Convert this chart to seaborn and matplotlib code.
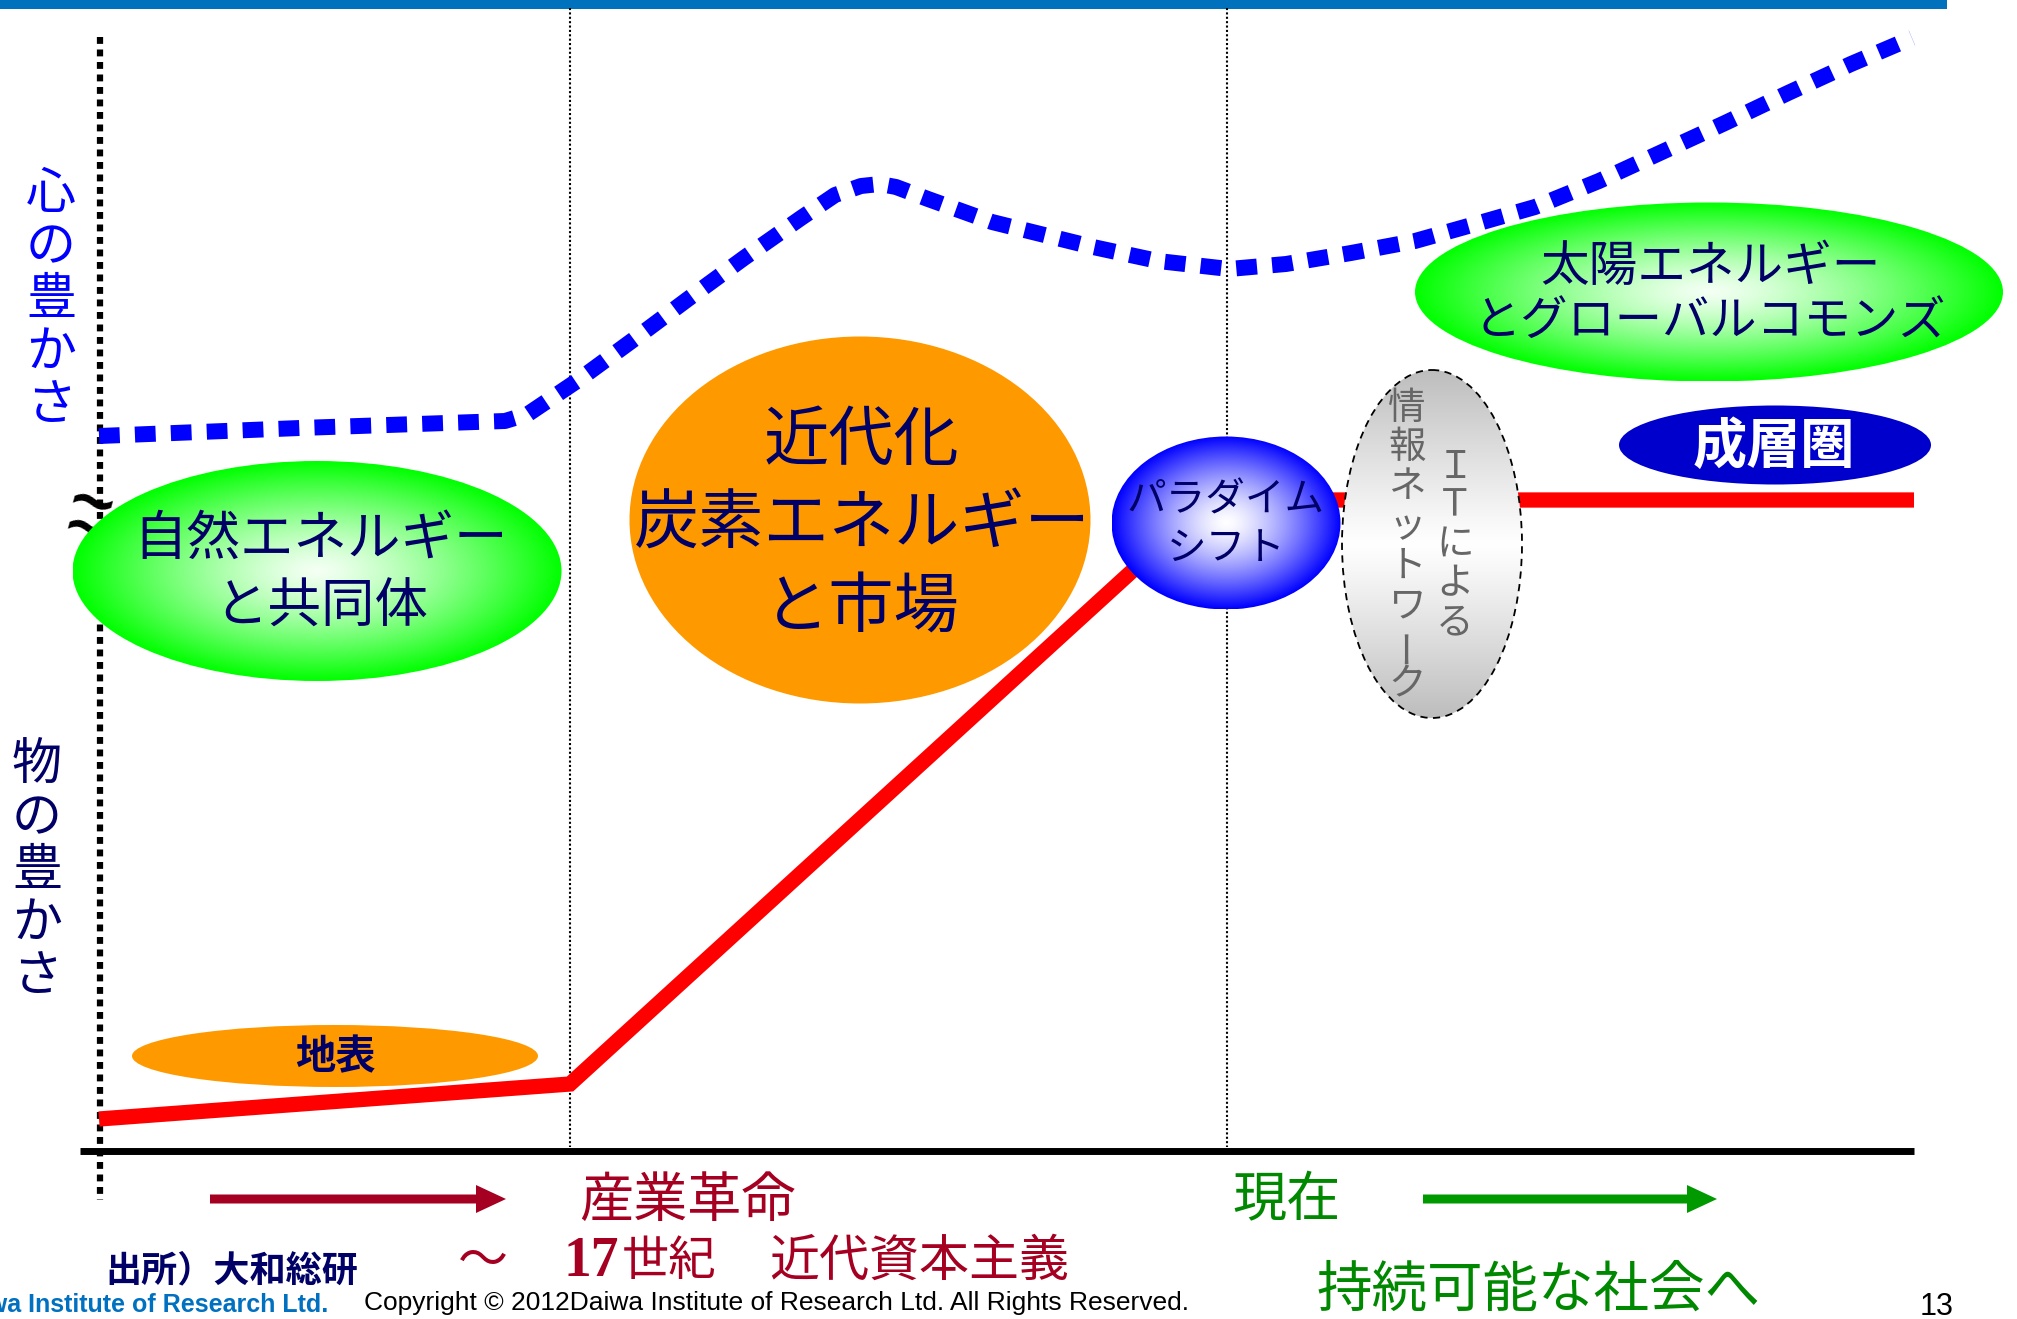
import numpy as np
import matplotlib
matplotlib.use("Agg")
import matplotlib.pyplot as plt
import matplotlib.colors as mcolors
from matplotlib.patches import Ellipse, Polygon, Rectangle
import seaborn as sns

sns.set_theme(style="white")
plt.rcParams['font.family'] = ['Noto Sans CJK JP', 'DejaVu Sans']

W, H = 2017, 1319

# --- series (canvas units, y grows downward) ---
# material wealth
red_x = [99, 570, 1210, 1914]
red_y = [1119, 1084, 500, 500]
# spiritual wealth
blue_x = [99, 300, 505, 528, 577, 633, 688, 744, 801, 835, 861, 880, 896, 928,
          992, 1093, 1158, 1229, 1286, 1351, 1415, 1479, 1535, 1599, 1662, 1725,
          1788, 1851, 1912]
blue_y = [436, 428, 421, 414, 381, 340, 299, 258, 218, 195, 186, 184, 187, 199,
          222, 247, 261, 269, 264, 253, 241, 223, 207, 181, 152, 123, 93, 64, 38]

era_lines = [570, 1227]

NAVY = '#000066'
DARKRED = '#A50021'
GREEN = '#009900'

fig = plt.figure(figsize=(W / 100, H / 100), dpi=100)
ax = fig.add_axes([0, 0, 1, 1])
ax.axis('off')

# header bar
ax.add_patch(Rectangle((0, 0), 1947, 9, color='#0071BC', lw=0, zorder=1))

# era separators
for xv in era_lines:
    ax.plot([xv, xv], [8, 1147], color='black', lw=1.5,
            linestyle=(0, (1, 1.1)), zorder=1)

# left axis (dotted) and base line
ax.plot([100, 100], [37, 1200], color='black', lw=4.5,
        linestyle=(0, (1.1, 0.9)), zorder=2)
ax.plot([80, 1914], [1151, 1151], color='black', lw=5, zorder=2,
        solid_capstyle='butt')

# axis break mark
ax.text(91, 507, '~', fontsize=44, fontweight='bold', color='black', rotation=-15,
        ha='center', va='center', family='DejaVu Sans', zorder=3)
ax.text(86, 533, '~', fontsize=44, fontweight='bold', color='black', rotation=-15,
        ha='center', va='center', family='DejaVu Sans', zorder=3)

# the two curves
sns.lineplot(x=red_x, y=red_y, ax=ax, color='#FF0000', lw=11, sort=False,
             estimator=None, zorder=3)
ax.lines[-1].set_solid_capstyle('butt')
ax.lines[-1].set_solid_joinstyle('miter')
sns.lineplot(x=blue_x, y=blue_y, ax=ax, color='#0000FF', lw=11.5, sort=False,
             estimator=None, zorder=3)
ax.lines[-1].set_linestyle((0, (1.3, 0.95)))
ax.lines[-1].set_dash_capstyle('butt')


def grad_ellipse(cx, cy, w, h, inner, outer, mode='radial', power=1.3,
                 z=4, edge='none', ls='-', elw=0):
    n = 400
    yy, xx = np.mgrid[-1:1:n * 1j, -1:1:n * 1j]
    if mode == 'radial':
        t = np.clip(np.sqrt(xx ** 2 + yy ** 2), 0, 1) ** power
    else:
        t = np.clip(np.abs(yy), 0, 1) ** power
    c0 = np.array(mcolors.to_rgb(inner))
    c1 = np.array(mcolors.to_rgb(outer))
    img = c0 * (1 - t[..., None]) + c1 * t[..., None]
    im = ax.imshow(img, extent=(cx - w / 2, cx + w / 2, cy + h / 2, cy - h / 2),
                   zorder=z, interpolation='bilinear')
    e = Ellipse((cx, cy), w, h, facecolor='none', edgecolor=edge, lw=elw,
                linestyle=ls, zorder=z + 0.1)
    ax.add_patch(e)
    im.set_clip_path(e)


def flat_ellipse(cx, cy, w, h, color, z=4):
    ax.add_patch(Ellipse((cx, cy), w, h, facecolor=color, edgecolor='none', zorder=z))


def lines_text(x, ys, texts, sizes, color=NAVY, weight='normal'):
    if not isinstance(sizes, (list, tuple)):
        sizes = [sizes] * len(texts)
    for y, s, sz in zip(ys, texts, sizes):
        ax.text(x, y, s, fontsize=sz, color=color, fontweight=weight,
                ha='center', va='center', zorder=6)


def vertical_text(x, y0, step, s, size, color):
    for i, ch in enumerate(s):
        rot = 90 if ch == 'ー' else 0
        ax.text(x, y0 + i * step, ch, fontsize=size, color=color, rotation=rot,
                ha='center', va='center', zorder=6)


# ellipses with labels
grad_ellipse(317, 571, 489, 220, '#F4FFF4', '#00FF00')
lines_text(321, [539, 607], ['自然エネルギー', 'と共同体'], 38.5)

flat_ellipse(860, 520, 461, 367, '#FF9900')
lines_text(862, [442, 525, 609], ['近代化', '炭素エネルギー', 'と市場'], 47)

grad_ellipse(1226, 523, 229, 173, '#FFFFFF', '#0000FF', power=1.4)
lines_text(1226, [501, 549], ['パラダイム', 'シフト'], 28.5)

grad_ellipse(1432, 544, 180, 348, '#FFFFFF', '#BDBDBD', mode='linear',
             power=1.1, edge='black', ls=(0, (4, 3)), elw=1.3)
vertical_text(1407, 408, 39.5, '情報ネットワーク', 27, '#666666')
vertical_text(1455, 467, 39, 'ＩＴによる', 27, '#666666')

grad_ellipse(1709, 292, 588, 179, '#F4FFF4', '#00FF00')
lines_text(1710, [267, 322], ['太陽エネルギー', 'とグローバルコモンズ'], [35, 34])

flat_ellipse(1775, 445, 312, 79, '#0000CC')
lines_text(1774, [447], ['成層圏'], 39, color='white', weight='bold')

flat_ellipse(335, 1056, 406, 62, '#FF9900')
lines_text(335, [1058], ['地表'], 29, weight='bold')

# vertical axis captions
vertical_text(51, 194, 53, '心の豊かさ', 36, '#0000FF')
vertical_text(37, 765, 53, '物の豊かさ', 36, NAVY)


# arrows under the time line
def arrow(x0, x1, y, color, head=30, half=14, th=4.5):
    pts = [(x0, y - th), (x1 - head, y - th), (x1 - head, y - half), (x1, y),
           (x1 - head, y + half), (x1 - head, y + th), (x0, y + th)]
    ax.add_patch(Polygon(pts, closed=True, facecolor=color, edgecolor='none', zorder=5))


arrow(210, 506, 1199, DARKRED)
arrow(1423, 1717, 1199, GREEN)

ax.text(687, 1201, '産業革命', fontsize=39, color=DARKRED, ha='center', va='center')
ax.text(483, 1262, '～', fontsize=36, color=DARKRED, ha='center', va='center')
ax.text(564, 1262, '17', fontsize=40, color=DARKRED, ha='left', va='center',
        fontweight='bold', family=['Liberation Serif', 'DejaVu Serif'])
ax.text(622, 1262, '世紀', fontsize=34, color=DARKRED, ha='left', va='center')
ax.text(919, 1262, '近代資本主義', fontsize=36, color=DARKRED, ha='center', va='center')

ax.text(1286, 1201, '現在', fontsize=39, color='#008800', ha='center', va='center')
ax.text(1538, 1291, '持続可能な社会へ', fontsize=40, color='#008800', ha='center', va='center')

ax.text(232, 1271, '出所）大和総研', fontsize=26, color=NAVY, fontweight='bold',
        ha='center', va='center')
ax.text(328, 1305, 'Daiwa Institute of Research Ltd.', fontsize=18, color='#0070C0',
        fontweight='bold', ha='right', va='center', family='Liberation Sans')
ax.text(364, 1303, 'Copyright © 2012Daiwa Institute of Research Ltd. All Rights Reserved.',
        fontsize=19, color='black', ha='left', va='center', family='Liberation Sans')
ax.text(1937, 1307, '13', fontsize=22, color='black', ha='center', va='center',
        family='Liberation Sans')

ax.set_xlim(0, W)
ax.set_ylim(H, 0)
ax.set_aspect('auto')
fig.savefig('out.png', dpi=100, facecolor='white')
